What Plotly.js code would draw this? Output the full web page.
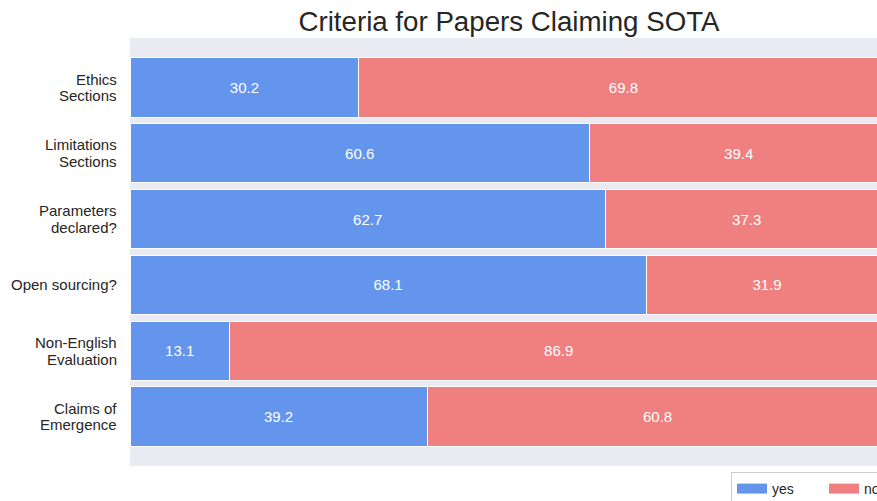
<!DOCTYPE html>
<html><head><meta charset="utf-8">
<script src="https://cdn.plot.ly/plotly-3.0.1.min.js"></script>
<style>html,body{margin:0;padding:0;overflow:hidden;background:#fff;}#chart{width:900px;height:501px;}</style>
</head><body><div id="chart"></div>
<script>
const categories = ["Ethics<br>Sections","Limitations<br>Sections","Parameters<br>declared?","Open sourcing?","Non-English<br>Evaluation","Claims of<br>Emergence"];
const yesValues = [30.2,60.6,62.7,68.1,13.1,39.2];
const noValues = [69.8,39.4,37.3,31.9,86.9,60.8];
const seriesNames = ["yes","no"];
const colors = ['#6495ED','#F08080'];

const font = "Liberation Sans, Arial, sans-serif";
function bar(name, vals, color){
  return {type:'bar', orientation:'h', name:name, x:vals, y:categories, width:0.9,
    marker:{color:color, line:{color:'#ffffff', width:1}}, showlegend:false,
    texttemplate:'%{x:.1f}', textposition:'inside', insidetextanchor:'middle',
    textfont:{color:'#ffffff', size:15, family:font}, hoverinfo:'x+y'};
}
function legendEntry(name, color){
  return {type:'scatter', mode:'lines', name:name, x:[null], y:[null],
    line:{color:color, width:10}, showlegend:true, hoverinfo:'skip'};
}
const data = [bar(seriesNames[0], yesValues, colors[0]), bar(seriesNames[1], noValues, colors[1]),
  legendEntry(seriesNames[0], colors[0]), legendEntry(seriesNames[1], colors[1])];

// two-line tick labels drawn with tighter line spacing
const annotations = [];
categories.forEach(function(cat){
  const lines = cat.split('<br>');
  const n = lines.length;
  lines.forEach(function(line, i){
    annotations.push({xref:'paper', yref:'y', x:-0.0145, y:cat, text:line, showarrow:false,
      xanchor:'right', yanchor:'middle', yshift:((n-1)/2 - i)*16.5,
      font:{size:15, color:'#262626', family:font}});
  });
});

const layout = {
  width:900, height:501, barmode:'stack', bargap:0.1,
  margin:{l:130, r:12, t:38, b:35},
  paper_bgcolor:'#ffffff', plot_bgcolor:'#EAEAF2',
  font:{family:font, color:'#262626'},
  title:{text:'Criteria for Papers Claiming SOTA', font:{size:27.7, color:'#262626', family:font},
    x:0.5, xref:'paper', y:1-21/501, yref:'container', yanchor:'middle'},
  xaxis:{range:[0,100], visible:false, showgrid:false, zeroline:false, fixedrange:true},
  yaxis:{type:'category', categoryorder:'array', categoryarray:categories, range:[5.75,-0.75],
    showgrid:false, zeroline:false, ticks:'', showticklabels:false},
  annotations:annotations,
  showlegend:true,
  legend:{orientation:'h', x:731/900, xref:'container', xanchor:'left', y:1-472/501, yref:'container', yanchor:'top',
    bgcolor:'rgba(255,255,255,0.8)', bordercolor:'#cccccc', borderwidth:1,
    font:{size:14, color:'#262626', family:font}, traceorder:'normal', itemwidth:30,
    entrywidth:47, entrywidthmode:'pixels'}
};
Plotly.newPlot('chart', data, layout, {displayModeBar:false, staticPlot:true});
</script></body></html>
